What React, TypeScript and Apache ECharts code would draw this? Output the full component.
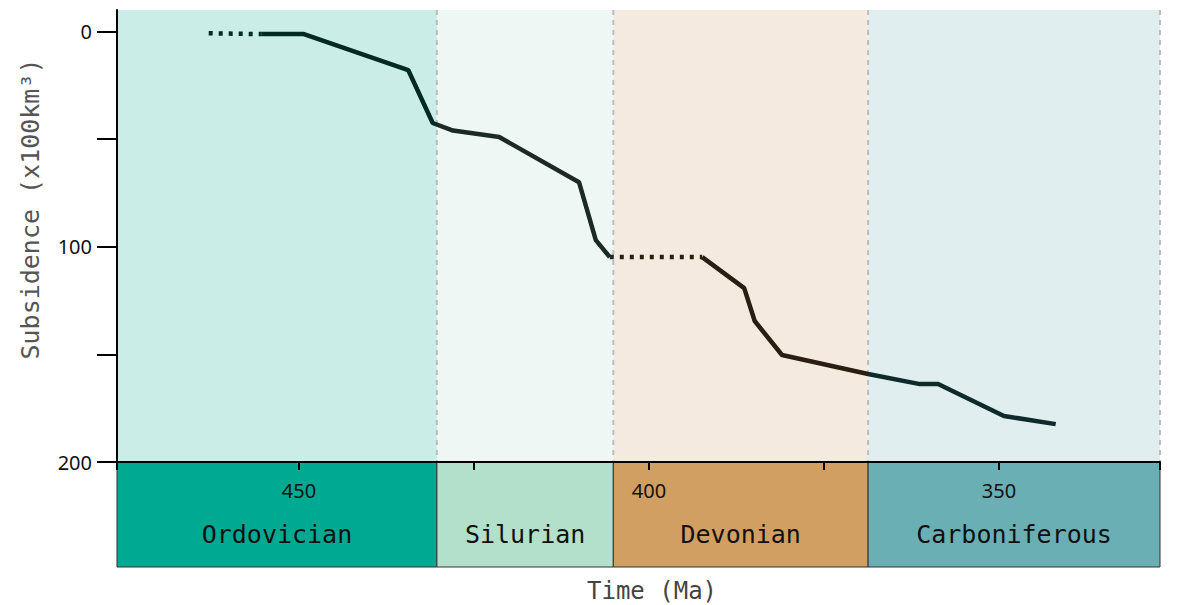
import React, { useEffect, useRef } from "react";
import * as echarts from "echarts";

const periodNames = ["Ordovician", "Silurian", "Devonian", "Carboniferous"];
const periodStart = [476, 430.3, 405.1, 368.7];
const periodEnd = [430.3, 405.1, 368.7, 327];
const periodColors = ["#00A992", "#B3E0CB", "#D19F62", "#6AAFB4"];
const periodBg = ["#CBEDE7", "#EEF7F4", "#F5EADF", "#E1EEEF"];
const periodLine = ["#012a22", "#1d2925", "#2a1e10", "#0e2a2a"];

const dottedAges1 = [462.9, 455.4];
const dottedVals1 = [0.8, 1.2];
const solidAges1 = [455.4, 449.3, 434.4, 430.9, 428.0, 421.4, 410.0, 407.6, 405.6];
const solidVals1 = [1.2, 1.2, 17.9, 42.5, 46.0, 49.0, 70.0, 96.9, 104.8];
const dottedAges2 = [405.6, 392.4];
const dottedVals2 = [104.8, 104.8];
const solidAges2 = [392.4, 386.4, 384.9, 381.0, 368.7, 361.3, 358.7, 349.3, 341.9];
const solidVals2 = [104.8, 119.2, 134.5, 150.3, 159.1, 163.8, 163.8, 178.6, 182.4];

const xTicks = [476, 450, 425, 400, 375, 350, 327];
const xLabels = [450, 400, 350];
const yTicks = [0, 50, 100, 150, 200];
const yLabels = [0, 100, 200];

const X_MIN = 327;
const X_MAX = 476;
const Y_MIN = -10;
const Y_MAX = 200;

const zip = (a: number[], b: number[]) => a.map((v, i) => [v, b[i]]);

export default function App() {
  const ref = useRef<HTMLDivElement>(null);
  useEffect(() => {
    if (!ref.current) return;
    const chart = echarts.init(ref.current, null, { renderer: "svg" });
    const periods = periodNames.map((n, i) => [periodStart[i], periodEnd[i], i]);
    const mono = "DejaVu Sans Mono";
    const sans = "Noto Sans";
    chart.setOption({
      animation: false,
      backgroundColor: "#ffffff",
      grid: [
        { left: 117, right: 20, top: 10, height: 452 },
        { left: 117, right: 20, top: 462, height: 105 },
      ],
      xAxis: [
        {
          gridIndex: 0,
          type: "value",
          min: X_MIN,
          max: X_MAX,
          inverse: true,
          position: "bottom",
          z: 5,
          axisLine: { onZero: false, lineStyle: { color: "#000", width: 2 } },
          axisTick: { show: true, customValues: xTicks, length: 8, lineStyle: { color: "#000", width: 2 } },
          axisLabel: { customValues: xLabels, margin: 18, fontSize: 20, fontFamily: sans, color: "#111" },
          splitLine: { show: false },
        },
        { gridIndex: 1, type: "value", min: X_MIN, max: X_MAX, inverse: true, show: false },
      ],
      yAxis: [
        {
          gridIndex: 0,
          type: "value",
          min: Y_MIN,
          max: Y_MAX,
          inverse: true,
          z: 5,
          axisLine: { show: true, onZero: false, lineStyle: { color: "#000", width: 2 } },
          axisTick: { show: true, customValues: yTicks, length: 20, lineStyle: { color: "#000", width: 2 } },
          axisLabel: { customValues: yLabels, margin: 25, fontSize: 20, fontFamily: sans, color: "#111" },
          splitLine: { show: false },
        },
        { gridIndex: 1, type: "value", min: 0, max: 1, show: false },
      ],
      visualMap: {
        type: "piecewise",
        show: false,
        dimension: 0,
        seriesIndex: [2, 3, 4, 5],
        pieces: periodNames.map((n, i) => ({ min: periodEnd[i], max: periodStart[i], color: periodLine[i] })),
      },
      graphic: [
        {
          type: "text",
          x: 30,
          y: 209,
          rotation: Math.PI / 2,
          style: {
            text: "Subsidence (x100km³)",
            fontFamily: mono,
            fontSize: 25,
            fill: "#555",
            align: "center",
            verticalAlign: "middle",
          },
        },
        {
          type: "text",
          x: 652,
          y: 591,
          style: {
            text: "Time (Ma)",
            fontFamily: mono,
            fontSize: 24,
            fill: "#444",
            align: "center",
            verticalAlign: "middle",
          },
        },
      ],
      series: [
        {
          type: "custom",
          xAxisIndex: 0,
          yAxisIndex: 0,
          z: 0,
          silent: true,
          data: periods,
          renderItem: (params: any, api: any) => {
            const i = api.value(2);
            const p1 = api.coord([api.value(0), Y_MIN]);
            const p2 = api.coord([api.value(1), Y_MAX]);
            return {
              type: "group",
              children: [
                {
                  type: "rect",
                  shape: { x: p1[0], y: p1[1], width: p2[0] - p1[0], height: p2[1] - p1[1] },
                  style: { fill: periodBg[i] },
                },
                {
                  type: "line",
                  z2: 5,
                  shape: { x1: p2[0], y1: p1[1], x2: p2[0], y2: p2[1] },
                  style: { stroke: "#bdbdbd", lineWidth: 2, lineDash: [5, 5] },
                },
              ],
            };
          },
        },
        {
          type: "custom",
          xAxisIndex: 1,
          yAxisIndex: 1,
          z: 1,
          silent: true,
          data: periods,
          renderItem: (params: any, api: any) => {
            const i = api.value(2);
            const p1 = api.coord([api.value(0), 1]);
            const p2 = api.coord([api.value(1), 0]);
            return {
              type: "group",
              children: [
                {
                  type: "rect",
                  shape: { x: p1[0], y: p1[1], width: p2[0] - p1[0], height: p2[1] - p1[1] },
                  style: { fill: periodColors[i], stroke: "#333", lineWidth: 1 },
                },
                {
                  type: "text",
                  style: {
                    text: periodNames[i],
                    x: (p1[0] + p2[0]) / 2,
                    y: p1[1] + 72,
                    align: "center",
                    verticalAlign: "middle",
                    fontFamily: mono,
                    fontSize: 25,
                    fill: "#111",
                  },
                },
              ],
            };
          },
        },
        {
          type: "line",
          xAxisIndex: 0,
          yAxisIndex: 0,
          z: 3,
          showSymbol: false,
          data: zip(dottedAges1, dottedVals1),
          lineStyle: { width: 4.5, type: [4, 6], cap: "butt" },
        },
        {
          type: "line",
          xAxisIndex: 0,
          yAxisIndex: 0,
          z: 3,
          showSymbol: false,
          data: zip(solidAges1, solidVals1),
          lineStyle: { width: 4.5 },
        },
        {
          type: "line",
          xAxisIndex: 0,
          yAxisIndex: 0,
          z: 3,
          showSymbol: false,
          data: zip(dottedAges2, dottedVals2),
          lineStyle: { width: 4.5, type: [4, 6], cap: "butt" },
        },
        {
          type: "line",
          xAxisIndex: 0,
          yAxisIndex: 0,
          z: 3,
          showSymbol: false,
          data: zip(solidAges2, solidVals2),
          lineStyle: { width: 4.5 },
        },
      ],
    });
    return () => chart.dispose();
  }, []);
  return (
    <div
      ref={ref}
      style={{ position: "absolute", left: 0, top: 0, width: 1180, height: 605 }}
    />
  );
}
